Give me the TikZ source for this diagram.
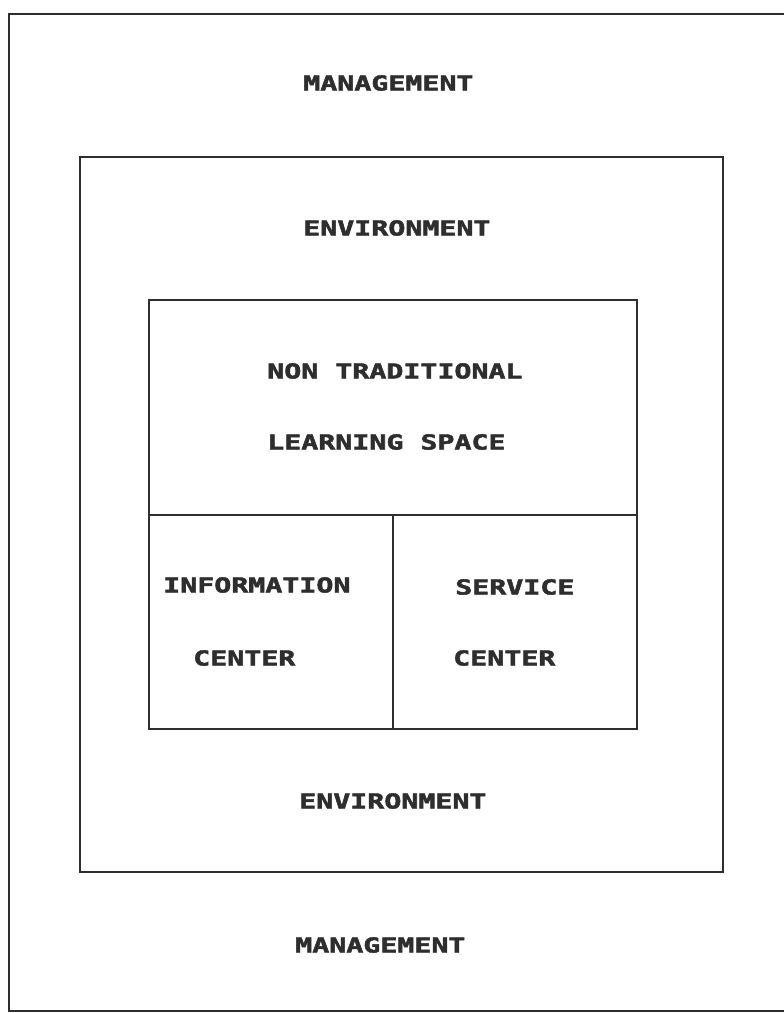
\documentclass[tikz,border=0pt]{standalone}
\usepackage{fontspec}
\setmonofont{DejaVu Sans Mono}[BoldFeatures={FakeBold=2}]
\usetikzlibrary{fit}
\definecolor{ink}{HTML}{2E2E2E}
\tikzset{
  box/.style={draw=ink, line width=1.2pt, inner sep=0pt, rectangle},
  lbl/.style={inner sep=0pt, anchor=west, text=ink,
    font=\ttfamily\bfseries\fontsize{21.2pt}{24pt}\selectfont},
}
\newcommand{\squash}[1]{\scalebox{1}[0.73]{#1}}
\begin{document}
\begin{tikzpicture}[x=0.75pt,y=-0.75pt]
\useasboundingbox (0,0) rectangle (784,1013);
\fill[white] (0,0) rectangle (784,1013);
% boxes
\node[box, fit={(9,14) (810,1011)}] (outer) {};
\node[box, fit={(80,157) (723,872)}] (env) {};
\node[box, fit={(149,300) (637,515)}] (ntls) {};
\node[box, fit={(149,515) (393,729)}] (info) {};
\node[box, fit={(393,515) (637,729)}] (service) {};
% labels
\node[lbl] (mgtop) at (303,83) {\squash{MANAGEMENT}};
\node[lbl] (envtop) at (303,228) {\squash{ENVIRONMENT}};
\node[lbl] (nt1) at (267,371) {\squash{NON TRADITIONAL}};
\node[lbl] (nt2) at (267,442) {\squash{LEARNING SPACE}};
\node[lbl] (inf1) at (163,585) {\squash{INFORMATION}};
\node[lbl] (inf2) at (193,658) {\squash{CENTER}};
\node[lbl] (srv1) at (455,587) {\squash{SERVICE}};
\node[lbl] (srv2) at (453,658) {\squash{CENTER}};
\node[lbl] (envbot) at (299,801) {\squash{ENVIRONMENT}};
\node[lbl] (mgbot) at (295,945) {\squash{MANAGEMENT}};
\end{tikzpicture}
\end{document}
